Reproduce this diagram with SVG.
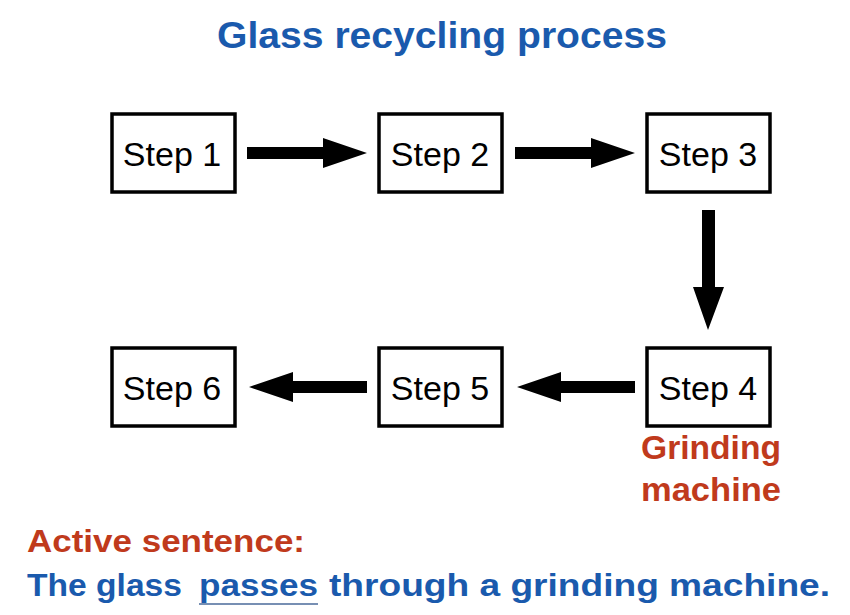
<svg xmlns="http://www.w3.org/2000/svg" width="850" height="615" viewBox="0 0 850 615">
<defs>
<style>
.box{fill:#fff;stroke:#000;stroke-width:3.5}
.lbl{font-family:"Liberation Sans",Arial,sans-serif;font-size:34px;fill:#000;text-anchor:middle}
.blue{font-family:"Liberation Sans",Arial,sans-serif;font-weight:bold;fill:#1a5aad}
.red{font-family:"Liberation Sans",Arial,sans-serif;font-weight:bold;fill:#c03a1c}
.arr{fill:#000}
</style>
</defs>
<rect width="850" height="615" fill="#fff"/>
<text class="blue" x="217" y="48" font-size="36" textLength="450" lengthAdjust="spacingAndGlyphs">Glass recycling process</text>
<g id="step1"><rect class="box" x="112" y="114" width="123" height="78"/><text class="lbl" x="172" y="166">Step 1</text></g>
<g id="step2"><rect class="box" x="379" y="114" width="123" height="78"/><text class="lbl" x="440" y="166">Step 2</text></g>
<g id="step3"><rect class="box" x="647" y="114" width="123" height="78"/><text class="lbl" x="708" y="166">Step 3</text></g>
<g id="step4"><rect class="box" x="647" y="348" width="123" height="78"/><text class="lbl" x="708" y="400">Step 4</text></g>
<g id="step5"><rect class="box" x="379" y="348" width="123" height="78"/><text class="lbl" x="440" y="400">Step 5</text></g>
<g id="step6"><rect class="box" x="112" y="348" width="123" height="78"/><text class="lbl" x="172" y="400">Step 6</text></g>
<g id="connectors">
<polygon class="arr" points="247,147 323,147 323,138 367,153 323,168 323,159 247,159"/>
<polygon class="arr" points="515,147 591,147 591,138 635,153 591,168 591,159 515,159"/>
<polygon class="arr" points="702,210 715,210 715,287 724,287 708,330 693,287 702,287"/>
<polygon class="arr" points="635,381 561,381 561,372 517,387 561,402 561,393 635,393"/>
<polygon class="arr" points="367,381 293,381 293,372 249,387 293,402 293,393 367,393"/>
</g>
<g id="note">
<text class="red" x="641" y="459" font-size="33" textLength="140" lengthAdjust="spacingAndGlyphs">Grinding</text>
<text class="red" x="641" y="501" font-size="33" textLength="140" lengthAdjust="spacingAndGlyphs">machine</text>
</g>
<text class="red" x="27" y="552" font-size="31" textLength="278" lengthAdjust="spacingAndGlyphs">Active sentence:</text>
<text class="blue" font-size="32" y="596"><tspan x="27" textLength="155" lengthAdjust="spacingAndGlyphs">The glass</tspan><tspan x="199" textLength="119" lengthAdjust="spacingAndGlyphs">passes</tspan><tspan x="329" textLength="501" lengthAdjust="spacingAndGlyphs">through a grinding machine.</tspan></text>
<line x1="199" y1="604" x2="318" y2="604" stroke="#4a6a9a" stroke-width="1.5"/>
</svg>
